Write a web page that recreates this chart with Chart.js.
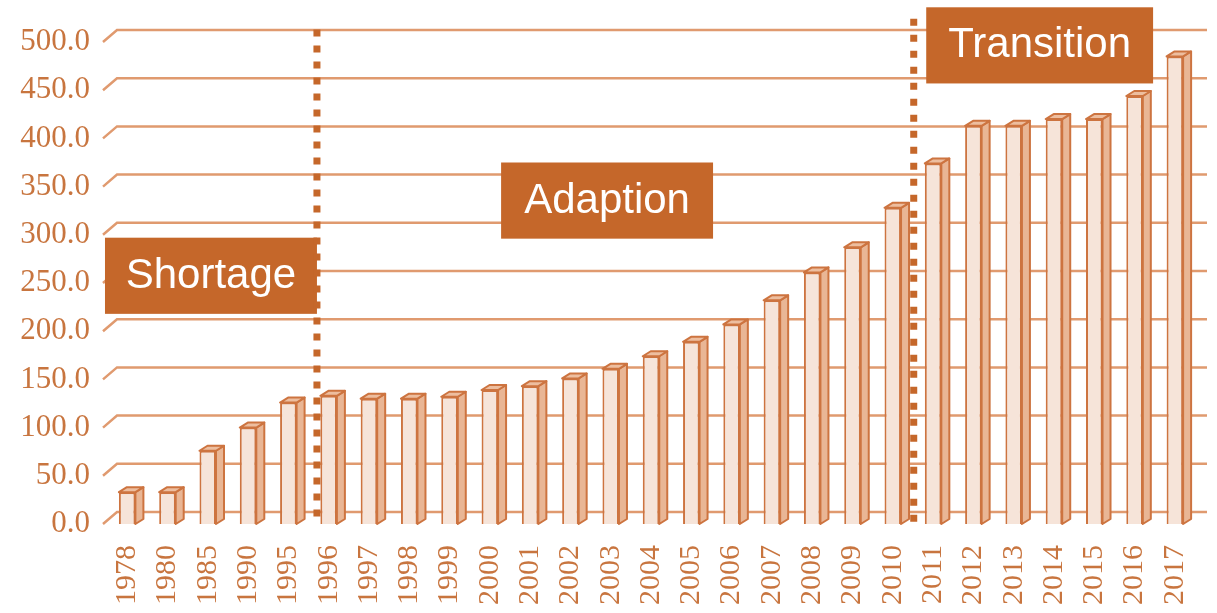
<!DOCTYPE html>
<html lang="en">
<head>
<meta charset="UTF-8">
<title>Stages chart</title>
<script src="https://cdn.jsdelivr.net/npm/chart.js@4.4.1/dist/chart.umd.min.js"></script>
<style>
    body {
        margin: 0;
        background-color: #fff;
    }

    .chart-container {
        position: relative;
        width: 1217px;
        height: 613px;
    }
</style>
</head>
<body>
<div class="chart-container">
    <canvas id="stageChart"></canvas>
</div>

<script>
    // data
    const years = ['1978', '1980', '1985', '1990', '1995', '1996', '1997', '1998', '1999',
        '2000', '2001', '2002', '2003', '2004', '2005', '2006', '2007', '2008', '2009',
        '2010', '2011', '2012', '2013', '2014', '2015', '2016', '2017'];
    const values = [33, 33, 76, 100, 126, 133, 130, 130, 132,
        139, 143, 151, 161, 174, 189, 207, 232, 261, 287,
        328, 374, 413, 413, 420, 420, 444, 485];
    const yTicks = [0, 50, 100, 150, 200, 250, 300, 350, 400, 450, 500];
    const stageNames = ['Shortage', 'Adaption', 'Transition'];

    const orange = '#C5672A';
    const edge = '#CD7440';
    const labelColor = '#C8753F';

    // where the stage boxes and the dotted dividers sit (category index / value units)
    const boxPlaces = [
        { from: -0.55, to: 4.71, top: 297, bottom: 218 },
        { from: 9.28, to: 14.54, top: 375, bottom: 296 },
        { from: 19.83, to: 25.46, top: 536, bottom: 457 }
    ];
    const dividerPlaces = [
        { at: 4.71, top: 513 },
        { at: 19.52, top: 524 }
    ];

    const wall = { dx: 14, dy: 12 };
    const depth = { dx: 8, dy: 5 };

    // back wall grid lines + 3d side/top faces of the bars
    const threeD = {
        id: 'threeD',
        beforeDatasetsDraw(chart) {
            const { ctx, chartArea, scales: { y } } = chart;
            ctx.save();
            ctx.strokeStyle = '#E09A6F';
            ctx.lineWidth = 2.5;
            yTicks.forEach(v => {
                const py = y.getPixelForValue(v);
                ctx.beginPath();
                ctx.moveTo(chartArea.left - 4, py);
                ctx.lineTo(chartArea.left - 4 + wall.dx, py - wall.dy);
                ctx.lineTo(chartArea.right + 12, py - wall.dy);
                ctx.stroke();
            });
            ctx.restore();
        },
        afterDatasetsDraw(chart) {
            const { ctx } = chart;
            const meta = chart.getDatasetMeta(0);
            ctx.save();
            ctx.strokeStyle = edge;
            ctx.lineWidth = 2;
            ctx.lineJoin = 'round';
            meta.data.forEach(bar => {
                const { x, y, base, width } = bar.getProps(['x', 'y', 'base', 'width'], true);
                const l = x - width / 2;
                const r = x + width / 2;

                // side face
                ctx.fillStyle = '#E9B695';
                ctx.beginPath();
                ctx.moveTo(r, y);
                ctx.lineTo(r + depth.dx, y - depth.dy);
                ctx.lineTo(r + depth.dx, base - depth.dy);
                ctx.lineTo(r, base);
                ctx.closePath();
                ctx.fill();
                ctx.stroke();

                // top face
                ctx.fillStyle = '#EDBE9F';
                ctx.beginPath();
                ctx.moveTo(l, y);
                ctx.lineTo(l + depth.dx, y - depth.dy);
                ctx.lineTo(r + depth.dx, y - depth.dy);
                ctx.lineTo(r, y);
                ctx.closePath();
                ctx.fill();
                ctx.stroke();
            });
            ctx.restore();
        }
    };

    // stage labels and dotted dividers
    const stages = {
        id: 'stages',
        afterDraw(chart) {
            const { ctx, scales: { x, y } } = chart;
            ctx.save();

            boxPlaces.forEach((b, i) => {
                const x0 = x.getPixelForValue(b.from);
                const x1 = x.getPixelForValue(b.to);
                const y0 = y.getPixelForValue(b.top);
                const y1 = y.getPixelForValue(b.bottom);
                ctx.fillStyle = orange;
                ctx.fillRect(x0, y0, x1 - x0, y1 - y0);
                ctx.fillStyle = '#fff';
                ctx.font = '42px "Liberation Sans", Arial, sans-serif';
                ctx.textAlign = 'center';
                ctx.textBaseline = 'alphabetic';
                ctx.fillText(stageNames[i], (x0 + x1) / 2, (y0 + y1) / 2 + 12);
            });

            ctx.strokeStyle = orange;
            ctx.lineWidth = 7;
            ctx.setLineDash([7, 9]);
            dividerPlaces.forEach(d => {
                const px = x.getPixelForValue(d.at);
                ctx.beginPath();
                ctx.moveTo(px, y.getPixelForValue(d.top));
                ctx.lineTo(px, y.getPixelForValue(0));
                ctx.stroke();
            });

            ctx.restore();
        }
    };

    const ctx = document.getElementById('stageChart').getContext('2d');
    new Chart(ctx, {
        type: 'bar',
        data: {
            labels: years,
            datasets: [{
                data: values,
                backgroundColor: '#F6E4D9',
                borderColor: edge,
                borderWidth: 2,
                barPercentage: 0.41,
                categoryPercentage: 1
            }]
        },
        options: {
            responsive: true,
            maintainAspectRatio: false,
            animation: false,
            layout: {
                padding: { top: 42, right: 22, left: 0, bottom: 0 }
            },
            plugins: {
                legend: { display: false },
                tooltip: { enabled: false }
            },
            scales: {
                x: {
                    grid: { display: false, drawTicks: false },
                    border: { display: false },
                    ticks: {
                        autoSkip: false,
                        minRotation: 90,
                        maxRotation: 90,
                        padding: 21,
                        color: labelColor,
                        font: { family: '"Liberation Serif", "Times New Roman", serif', size: 30 }
                    },
                    afterFit: scale => {
                        scale.height = 89;
                        scale.paddingLeft = 0;
                        scale.paddingRight = 0;
                    }
                },
                y: {
                    min: 0,
                    max: 500,
                    grid: { display: false, drawTicks: false },
                    border: { display: false },
                    afterBuildTicks: scale => { scale.ticks = yTicks.map(v => ({ value: v })); },
                    ticks: {
                        padding: 17,
                        color: labelColor,
                        font: { family: '"Liberation Serif", "Times New Roman", serif', size: 31 },
                        callback: v => Number(v).toFixed(1)
                    },
                    afterFit: scale => {
                        scale.width = 107;
                        scale.paddingTop = 0;
                        scale.paddingBottom = 0;
                    }
                }
            }
        },
        plugins: [threeD, stages]
    });
</script>
</body>
</html>
